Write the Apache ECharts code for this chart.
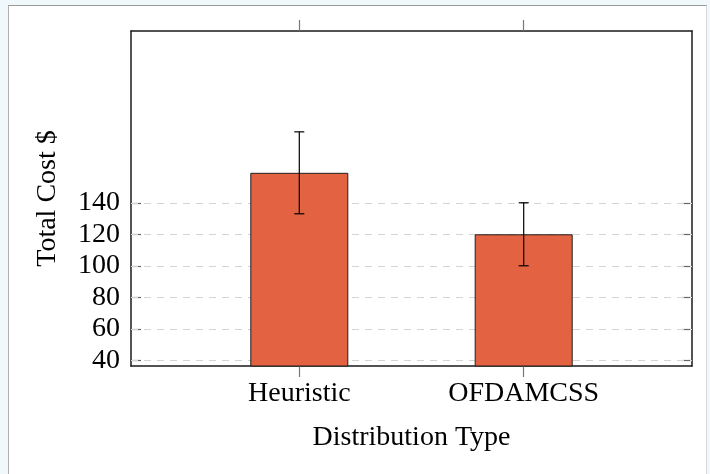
<!DOCTYPE html>
<html>
<head>
<meta charset="utf-8">
<script src="https://cdn.jsdelivr.net/npm/echarts@6/dist/echarts.min.js"></script>
<style>
  html, body { margin: 0; padding: 0; background: #f0f8fb; }
  #panel { position: absolute; left: 8px; top: 5px; width: 697px; height: 480px; background: #fff;
           border-top: 1px solid #9a9a9a; border-left: 1px solid #b0b0b0; border-right: 1px solid #d8d8d8; }
  #chart { position: absolute; left: 0; top: 0; width: 710px; height: 474px; }
</style>
</head>
<body>
<div id="panel"></div>
<div id="chart"></div>
<script>
const categories = ['Heuristic', 'OFDAMCSS'];
const meanCost = [159, 120];
const errCost = [26, 20];
const yTicks = [40, 60, 80, 100, 120, 140];
const xTicks = [0, 1];

const font = 'Liberation Serif, Times New Roman, serif';
const chart = echarts.init(document.getElementById('chart'), null, { renderer: 'canvas' });

const barData = categories.map((c, i) => [i, meanCost[i]]);
const errData = categories.map((c, i) => [i, meanCost[i] - errCost[i], meanCost[i] + errCost[i]]);

const yCommon = {
  type: 'value', min: 36.4, max: 249,
  axisLine: { show: true, onZero: false, lineStyle: { color: '#1a1a1a', width: 1.5 } },
  axisTick: { show: true, inside: true, length: 10, customValues: yTicks, lineStyle: { color: '#666', width: 1.2 } },
  splitLine: { show: false }
};
const xCommon = {
  type: 'value', min: -0.75, max: 1.75,
  axisLine: { show: true, onZero: false, lineStyle: { color: '#1a1a1a', width: 1.5 } },
  axisTick: { show: true, inside: false, length: 11, customValues: xTicks, lineStyle: { color: '#777', width: 1.2 } },
  splitLine: { show: false }
};

chart.setOption({
  animation: false,
  backgroundColor: 'transparent',
  grid: { left: 131, right: 18, top: 31, bottom: 108, containLabel: false },
  xAxis: [
    Object.assign({}, xCommon, {
      position: 'bottom',
      name: 'Distribution Type', nameLocation: 'middle', nameGap: 58,
      nameTextStyle: { fontFamily: font, fontSize: 28, color: '#000' },
      axisLabel: { show: true, customValues: xTicks, margin: 14, fontFamily: font, fontSize: 28, color: '#000',
                   formatter: v => categories[Math.round(v)] }
    }),
    Object.assign({}, xCommon, { position: 'top', axisLabel: { show: false } })
  ],
  yAxis: [
    Object.assign({}, yCommon, {
      position: 'left',
      name: 'Total Cost $', nameLocation: 'middle', nameGap: 69,
      nameTextStyle: { fontFamily: font, fontSize: 28, color: '#000' },
      axisLabel: { show: true, customValues: yTicks, margin: 11, fontFamily: font, fontSize: 28, color: '#000' }
    }),
    Object.assign({}, yCommon, { position: 'right', axisLabel: { show: false } })
  ],
  series: [
    {
      type: 'line', data: [], xAxisIndex: 0, yAxisIndex: 0, z: 1, silent: true,
      markLine: {
        z: 1, silent: true, symbol: 'none', label: { show: false },
        lineStyle: { color: '#d4d4d4', type: [7, 6], width: 1.2 },
        data: yTicks.map(v => ({ yAxis: v }))
      }
    },
    {
      type: 'bar', data: barData, xAxisIndex: 0, yAxisIndex: 0, barWidth: 98, z: 3,
      itemStyle: { color: '#e26241', borderColor: '#1f1f1f', borderWidth: 1 }
    },
    {
      type: 'custom', data: errData, xAxisIndex: 0, yAxisIndex: 0, z: 5,
      encode: { x: 0, y: [1, 2] },
      renderItem: function (params, api) {
        const x = api.value(0);
        const lo = api.coord([x, api.value(1)]);
        const hi = api.coord([x, api.value(2)]);
        const hw = 5;
        const style = { stroke: '#000', lineWidth: 1.2 };
        return {
          type: 'group',
          children: [
            { type: 'line', shape: { x1: lo[0], y1: lo[1], x2: hi[0], y2: hi[1] }, style },
            { type: 'line', shape: { x1: hi[0] - hw, y1: hi[1], x2: hi[0] + hw, y2: hi[1] }, style },
            { type: 'line', shape: { x1: lo[0] - hw, y1: lo[1], x2: lo[0] + hw, y2: lo[1] }, style }
          ]
        };
      }
    }
  ]
});
</script>
</body>
</html>
